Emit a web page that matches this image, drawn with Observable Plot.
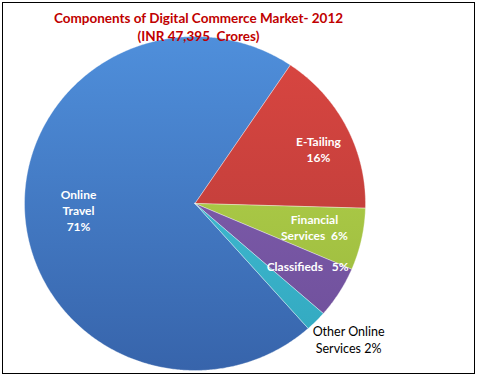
<!DOCTYPE html>
<html><head><meta charset="utf-8">
<script src="https://cdn.jsdelivr.net/npm/d3@7"></script>
<script src="https://cdn.jsdelivr.net/npm/@observablehq/plot@0.6"></script>
<style>
html,body{margin:0;padding:0;background:#fff;}
#wrap{position:relative;width:477px;height:376px;overflow:hidden;}
#border{position:absolute;left:2px;top:2px;width:471px;height:370px;border:1px solid #000;pointer-events:none;}
</style></head><body>
<div id="wrap"><div id="chart"></div><div id="border"></div></div>
<script>
// ---- data ----
const segments = ["Online Travel", "E-Tailing", "Financial Services", "Classifieds", "Other Online Services"];
const shares = [71, 16, 6, 5, 2];
const labels = ["Online\nTravel\n71%", "E-Tailing\n16%", "Financial\nServices  6%", "Classifieds   5%", "Other Online\nServices 2%"];
const titleLines = ["Components of Digital Commerce Market- 2012", "(INR 47,395  Crores)"];

// ---- styling / layout (not data) ----
const gradTop = ["#4f8fdb", "#da4641", "#b8d84e", "#8663b4", "#48c4dc"];
const gradBottom = ["#3764ab", "#b33a37", "#98b63c", "#6d4e99", "#31a7be"];
const labelRadius = [0.684, 0.795, 0.714, 0.76, 1.214];
const labelAngleShift = [0.8, 2.8, -1.3, -2.5, -2.7];
const labelInside = [true, true, true, true, false];
const startAngle = 138.4; // degrees, clockwise from 12 o'clock

const total = d3.sum(shares);
const rad = Math.PI / 180;
let acc = startAngle;
const arcs = shares.map((v, i) => {
  const a0 = acc, a1 = acc + v / total * 360;
  acc = a1;
  return {name: segments[i], a0, a1, mid: (a0 + a1) / 2, i};
});

function slicePoints(s) {
  const pts = [{x: 0, y: 0}];
  const n = Math.max(2, Math.ceil((s.a1 - s.a0) / 0.5));
  for (let k = 0; k <= n; k++) {
    const a = (s.a0 + (s.a1 - s.a0) * k / n) * rad;
    pts.push({x: Math.sin(a), y: Math.cos(a)});
  }
  pts.push({x: 0, y: 0});
  return pts;
}

const labelRows = arcs.map((s, i) => {
  const a = (s.mid + labelAngleShift[i]) * rad;
  return {
    x: labelRadius[i] * Math.sin(a),
    y: labelRadius[i] * Math.cos(a),
    text: labels[i],
    inside: labelInside[i]
  };
});

const chart = Plot.plot({
  width: 477,
  height: 376,
  marginLeft: 24,
  marginRight: 112,
  marginTop: 36,
  marginBottom: 6,
  x: {domain: [-1, 1], axis: null},
  y: {domain: [-1, 1], axis: null},
  style: {fontFamily: "Lato, sans-serif", background: "transparent", overflow: "visible"},
  marks: [
    ...arcs.map((s, i) => Plot.line(slicePoints(s), {
      x: "x", y: "y", fill: `url(#grad${i})`, stroke: "#ffffff", strokeOpacity: 0.35, strokeWidth: 1
    })),
    Plot.text(labelRows.filter(d => d.inside), {
      x: "x", y: "y", text: "text", fill: "white", fontWeight: "bold", fontSize: 12, lineHeight: 1.33
    }),
    Plot.text(labelRows.filter(d => !d.inside), {
      x: "x", y: "y", text: "text", fill: "black", fontSize: 12.5, lineHeight: 1.3
    }),
    Plot.text([titleLines[0]], {
      frameAnchor: "top", dy: -23, dx: 3.5, text: d => d, fill: "#c00000", fontWeight: "bold", fontSize: 13.5
    }),
    Plot.text([titleLines[1]], {
      frameAnchor: "top", dy: -5, dx: 3.5, text: d => d, fill: "#c00000", fontWeight: "bold", fontSize: 13.5
    })
  ]
});

const defs = d3.select(chart).insert("defs", ":first-child");
gradTop.forEach((c, i) => {
  const g = defs.append("linearGradient")
    .attr("id", `grad${i}`)
    .attr("gradientUnits", "userSpaceOnUse")
    .attr("x1", 0).attr("y1", 36).attr("x2", 0).attr("y2", 370);
  g.append("stop").attr("offset", "0%").attr("stop-color", c);
  g.append("stop").attr("offset", "100%").attr("stop-color", gradBottom[i]);
});

document.getElementById("chart").appendChild(chart);
</script>
</body></html>
